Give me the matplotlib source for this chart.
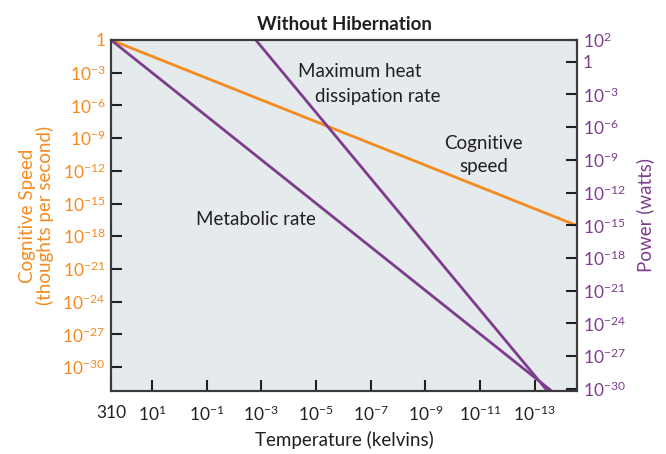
import numpy as np
import matplotlib
matplotlib.use("Agg")
import matplotlib.pyplot as plt

# values (log-log, temperature axis reversed)
temp_speed = [310, 10**-14.54]
cognitive_speed = [1, 10**-17.03]

temp_metab = [310, 10**-13.73]
metabolic_rate = [1e2, 10**-30.44]

temp_heat = [10**-2.8, 10**-13.46]
max_heat_rate = [1e2, 10**-30.2]

x_ticks = [310, 1e1, 1e-1, 1e-3, 1e-5, 1e-7, 1e-9, 1e-11, 1e-13]
x_labels = ["310", "$10^{1}$", "$10^{-1}$", "$10^{-3}$", "$10^{-5}$",
            "$10^{-7}$", "$10^{-9}$", "$10^{-11}$", "$10^{-13}$"]
left_exps = [0, -3, -6, -9, -12, -15, -18, -21, -24, -27, -30]
right_exps = [2, 0, -3, -6, -9, -12, -15, -18, -21, -24, -27, -30]

ORANGE = "#F58A1F"
PURPLE = "#7D3C8C"
DARK = "#231F20"
BG = "#E5EAEC"

plt.rcParams['font.family'] = ['Lato', 'DejaVu Sans']
plt.rcParams['mathtext.fontset'] = 'custom'
plt.rcParams['mathtext.rm'] = 'Lato'
plt.rcParams['mathtext.it'] = 'Lato'


def exp_label(e):
    return "1" if e == 0 else "$10^{%d}$" % e


fig = plt.figure(figsize=(6.66, 4.54), dpi=100)
ax = fig.add_axes([0.1667, 0.1388, 0.6997, 0.7731])
ax.set_facecolor(BG)
ax.set_xscale('log')
ax.set_yscale('log')
ax.set_xlim(10**2.4914, 10**-14.54)
ax.set_ylim(10**-32.2, 1)

ax.plot(temp_speed, cognitive_speed, color=ORANGE, lw=2, solid_capstyle='butt')

ax2 = ax.twinx()
ax2.set_yscale('log')
ax2.set_ylim(10**-30.2, 1e2)
ax2.plot(temp_metab, metabolic_rate, color=PURPLE, lw=2)
ax2.plot(temp_heat, max_heat_rate, color=PURPLE, lw=2)

ax.set_xticks(x_ticks)
ax.set_xticklabels(x_labels)
ax.xaxis.set_minor_locator(matplotlib.ticker.NullLocator())
ax.set_yticks([10.0**e for e in left_exps])
ax.set_yticklabels([exp_label(e) for e in left_exps])
ax.yaxis.set_minor_locator(matplotlib.ticker.NullLocator())
ax2.set_yticks([10.0**e for e in right_exps])
ax2.set_yticklabels([exp_label(e) for e in right_exps])
ax2.yaxis.set_minor_locator(matplotlib.ticker.NullLocator())

ax.tick_params(axis='x', direction='in', length=8, width=1.5, color=DARK,
               labelcolor=DARK, labelsize=12.5, pad=10)
ax.tick_params(axis='y', direction='in', length=8, width=1.5, color=DARK,
               labelcolor=ORANGE, labelsize=12.5, pad=4)
ax2.tick_params(axis='y', direction='in', length=8, width=1.5, color=DARK,
                labelcolor=PURPLE, labelsize=12.5, pad=4)

for a in (ax, ax2):
    for s in a.spines.values():
        s.set_color("#3a3a3a")
        s.set_linewidth(1.5)

ax.set_title("Without Hibernation", fontsize=13.5, fontweight='bold', color=DARK, pad=7)
ax.set_xlabel("Temperature (kelvins)", fontsize=13.5, color=DARK, labelpad=5)
ax.set_ylabel("Cognitive Speed\n(thoughts per second)", fontsize=13.5, color=ORANGE,
              labelpad=6, linespacing=1.0)
ax2.set_ylabel("Power (watts)", fontsize=13.5, color=PURPLE, labelpad=8)

ax.text(0.534, 0.91, "Maximum heat", transform=ax.transAxes, fontsize=13.5,
        color=DARK, ha='center', va='center')
ax.text(0.573, 0.84, "dissipation rate", transform=ax.transAxes, fontsize=13.5,
        color=DARK, ha='center', va='center')
ax.text(0.80, 0.672, "Cognitive\nspeed", transform=ax.transAxes, fontsize=13.5,
        color=DARK, ha='center', va='center', linespacing=1.45)
ax.text(0.31, 0.49, "Metabolic rate", transform=ax.transAxes, fontsize=13.5,
        color=DARK, ha='center', va='center')

fig.savefig("out.png", dpi=100)
